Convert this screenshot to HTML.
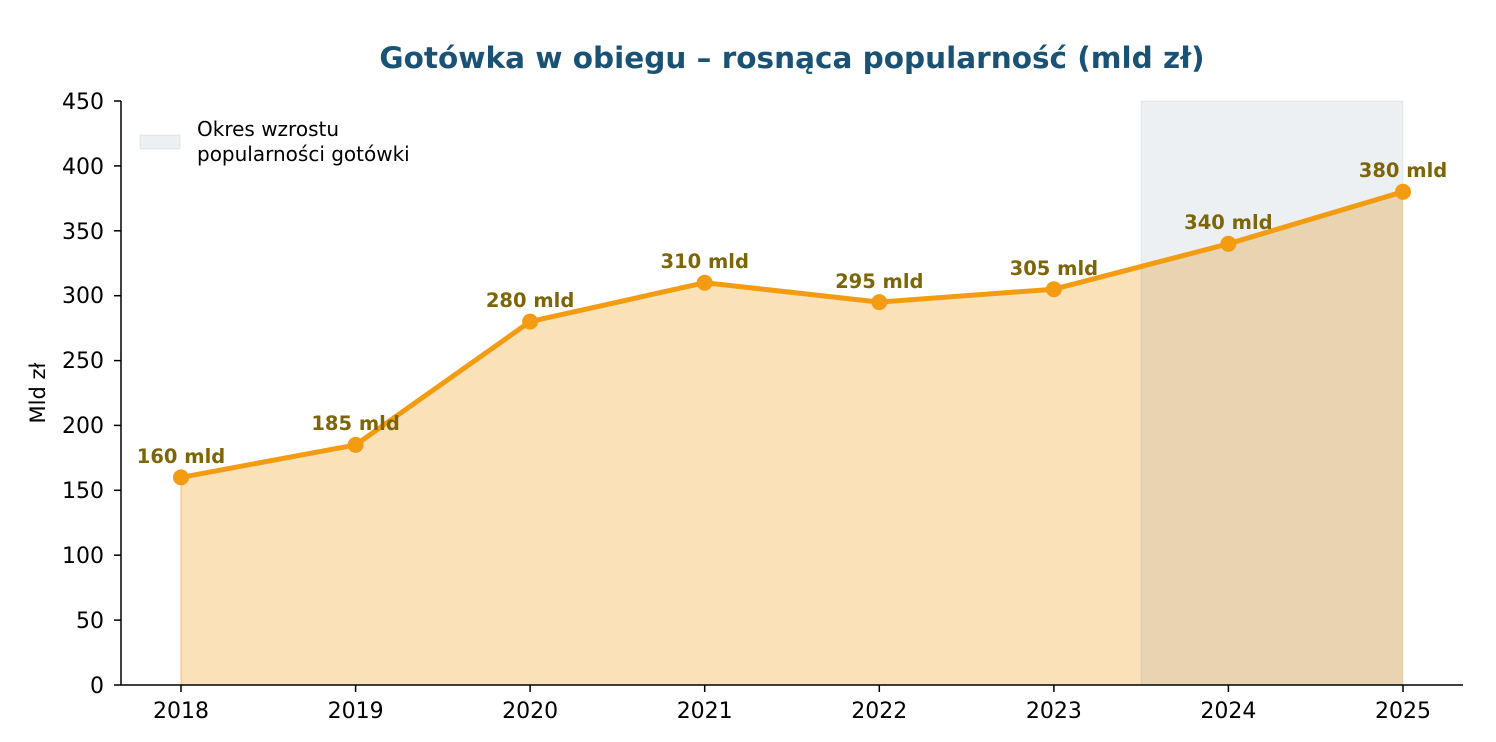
<!DOCTYPE html>
<html><head><meta charset="utf-8"><style>body{margin:0;background:#fff}svg{display:block;font-family:"DejaVu Sans","Liberation Sans",sans-serif}</style></head>
<body>
<svg width="1496" height="742" viewBox="0 0 1496 742" xmlns="http://www.w3.org/2000/svg">
<rect width="1496" height="742" fill="#fff"/>
<text x="792" y="68" text-anchor="middle" font-size="29.5" font-weight="bold" fill="#1a5276">Gotówka w obiegu – rosnąca popularność (mld zł)</text>
<polygon points="181,685 181,477.4 355.6,444.9 530.1,321.6 704.7,282.7 879.3,302.1 1053.9,289.2 1228.4,243.8 1403,191.8 1403,685" fill="#f39c12" fill-opacity="0.3"/>
<line x1="181" y1="477" x2="181" y2="685" stroke="#f39c12" stroke-opacity="0.3" stroke-width="2"/>
<rect x="1141" y="101" width="262" height="584" fill="#2c5a7f" fill-opacity="0.09" stroke="#2c5a7f" stroke-opacity="0.1"/>
<polyline points="181,477.4 355.6,444.9 530.1,321.6 704.7,282.7 879.3,302.1 1053.9,289.2 1228.4,243.8 1403,191.8" fill="none" stroke="#f39c12" stroke-width="5" stroke-linejoin="round"/>
<g fill="#f39c12">
<circle cx="181" cy="477.4" r="8"/><circle cx="355.6" cy="444.9" r="8"/><circle cx="530.1" cy="321.6" r="8"/><circle cx="704.7" cy="282.7" r="8"/><circle cx="879.3" cy="302.1" r="8"/><circle cx="1053.9" cy="289.2" r="8"/><circle cx="1228.4" cy="243.8" r="8"/><circle cx="1403" cy="191.8" r="8"/>
</g>
<g font-size="19.5" font-weight="bold" fill="#7d6608" text-anchor="middle">
<text x="181" y="463">160 mld</text><text x="355.6" y="430">185 mld</text><text x="530.1" y="307">280 mld</text><text x="704.7" y="268">310 mld</text><text x="879.3" y="288">295 mld</text><text x="1053.9" y="275">305 mld</text><text x="1228.4" y="229">340 mld</text><text x="1403" y="177">380 mld</text>
</g>
<line x1="121" y1="101" x2="121" y2="685" stroke="#000" stroke-width="1.5"/>
<line x1="121" y1="685" x2="1463" y2="685" stroke="#000" stroke-width="1.5"/>
<g font-size="22" fill="#000" text-anchor="end">
<text x="104" y="693">0</text><text x="104" y="628">50</text><text x="104" y="563">100</text><text x="104" y="498">150</text><text x="104" y="433">200</text><text x="104" y="368">250</text><text x="104" y="303">300</text><text x="104" y="239">350</text><text x="104" y="174">400</text><text x="104" y="109">450</text>
</g>
<g stroke="#000" stroke-width="1.5">
<line x1="114" y1="685" x2="121" y2="685"/><line x1="114" y1="620.1" x2="121" y2="620.1"/><line x1="114" y1="555.2" x2="121" y2="555.2"/><line x1="114" y1="490.3" x2="121" y2="490.3"/><line x1="114" y1="425.4" x2="121" y2="425.4"/><line x1="114" y1="360.6" x2="121" y2="360.6"/><line x1="114" y1="295.7" x2="121" y2="295.7"/><line x1="114" y1="230.8" x2="121" y2="230.8"/><line x1="114" y1="165.9" x2="121" y2="165.9"/><line x1="114" y1="101" x2="121" y2="101"/>
<line x1="181" y1="685" x2="181" y2="692"/><line x1="355.6" y1="685" x2="355.6" y2="692"/><line x1="530.1" y1="685" x2="530.1" y2="692"/><line x1="704.7" y1="685" x2="704.7" y2="692"/><line x1="879.3" y1="685" x2="879.3" y2="692"/><line x1="1053.9" y1="685" x2="1053.9" y2="692"/><line x1="1228.4" y1="685" x2="1228.4" y2="692"/><line x1="1403" y1="685" x2="1403" y2="692"/>
</g>
<g font-size="22" fill="#000" text-anchor="middle">
<text x="181" y="718">2018</text><text x="355.6" y="718">2019</text><text x="530.1" y="718">2020</text><text x="704.7" y="718">2021</text><text x="879.3" y="718">2022</text><text x="1053.9" y="718">2023</text><text x="1228.4" y="718">2024</text><text x="1403" y="718">2025</text>
</g>
<text transform="translate(45,393) rotate(-90)" font-size="21" text-anchor="middle">Mld zł</text>
<rect x="140" y="135" width="40" height="14" fill="#2c5a7f" fill-opacity="0.09" stroke="#2c5a7f" stroke-opacity="0.1"/>
<text x="197" y="136" font-size="20">Okres wzrostu</text>
<text x="197" y="161" font-size="20">popularności gotówki</text>
</svg>
</body></html>
